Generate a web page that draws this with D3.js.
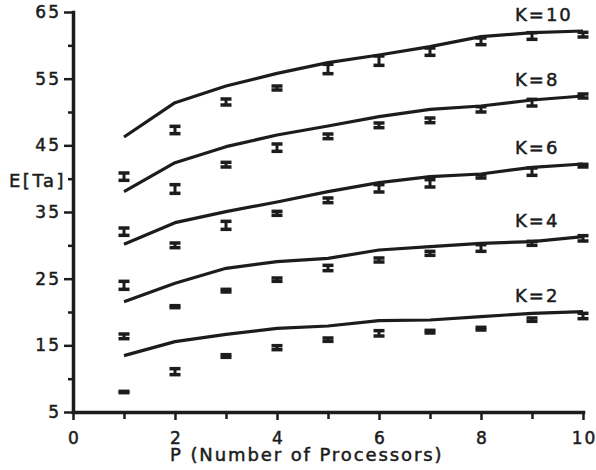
<!DOCTYPE html>
<html>
<head>
<meta charset="utf-8">
<script src="https://cdn.jsdelivr.net/npm/d3@7"></script>
<style>
  body { margin: 0; background: #fff; }
  svg text { font-family: "DejaVu Sans", sans-serif; fill: #1c1c1c; stroke: #1c1c1c; stroke-width: 0.5px; }
</style>
</head>
<body>
<div id="chart"></div>
<script>
// Number of processors
var procs = [1, 2, 3, 4, 5, 6, 7, 8, 9, 10];

// Model curves, one per K
var modelK2  = [13.45, 15.55, 16.65, 17.55, 17.9, 18.7, 18.8, 19.3, 19.8, 20.05];
var modelK4  = [21.55, 24.3, 26.55, 27.55, 28.05, 29.3, 29.8, 30.3, 30.55, 31.3];
var modelK6  = [30.15, 33.4, 35.05, 36.5, 38.05, 39.4, 40.3, 40.7, 41.7, 42.2];
var modelK8  = [38.05, 42.4, 44.8, 46.55, 47.9, 49.3, 50.4, 50.9, 51.8, 52.4];
var modelK10 = [46.25, 51.4, 53.9, 55.8, 57.4, 58.55, 59.8, 61.3, 61.9, 62.15];

// Simulation means and half widths of the error bars
var simK2  = [8.0, 11.05, 13.4, 14.65, 15.85, 16.8, 17.05, 17.5, 18.85, 19.4];
var errK2  = [0.1, 0.45, 0.2, 0.3, 0.25, 0.4, 0.2, 0.2, 0.25, 0.4];
var simK4  = [16.35, 20.8, 23.2, 24.85, 26.6, 27.8, 28.8, 29.6, 30.3, 31.05];
var errK4  = [0.35, 0.15, 0.2, 0.25, 0.4, 0.3, 0.3, 0.5, 0.3, 0.4];
var simK6  = [24.0, 30.0, 33.0, 34.8, 36.75, 38.55, 39.3, 40.35, 41.05, 41.95];
var errK6  = [0.6, 0.35, 0.6, 0.3, 0.35, 0.55, 0.55, 0.25, 0.55, 0.2];
var simK8  = [32.05, 38.45, 42.1, 44.65, 46.35, 48.0, 48.75, 50.4, 51.4, 52.4];
var errK8  = [0.55, 0.65, 0.35, 0.55, 0.35, 0.35, 0.35, 0.4, 0.5, 0.3];
var simK10 = [40.3, 47.3, 51.5, 53.6, 56.45, 57.7, 59.05, 60.6, 61.4, 61.6];
var errK10 = [0.55, 0.55, 0.45, 0.3, 0.7, 0.7, 0.55, 0.5, 0.5, 0.35];

var curveLabels = ["K=2", "K=4", "K=6", "K=8", "K=10"];

// Axis ticks
var xMajor = [0, 2, 4, 6, 8, 10];
var xMinor = [1, 3, 5, 7, 9];
var yMajor = [5, 15, 25, 35, 45, 55, 65];
var yMinor = [10, 20, 30, 40, 50, 60];

var series = [
    {label: curveLabels[0], model: modelK2,  sim: simK2,  err: errK2},
    {label: curveLabels[1], model: modelK4,  sim: simK4,  err: errK4},
    {label: curveLabels[2], model: modelK6,  sim: simK6,  err: errK6},
    {label: curveLabels[3], model: modelK8,  sim: simK8,  err: errK8},
    {label: curveLabels[4], model: modelK10, sim: simK10, err: errK10}
];

var width = 596, height = 470;
var ink = "#1c1c1c";

var svg = d3.select("#chart").append("svg")
    .attr("width", width)
    .attr("height", height);

// Scales
var x = d3.scaleLinear().domain([0, 10]).range([73, 583]);
var y = d3.scaleLinear().domain([5, 65]).range([412, 12]);

// Minor ticks first so the major axis draws over them
svg.append("g")
    .attr("class", "x_minor")
    .attr("transform", "translate(0," + y(5) + ")")
    .call(d3.axisBottom(x).tickValues(xMinor).tickSize(7).tickSizeOuter(0).tickFormat(""));

svg.append("g")
    .attr("class", "y_minor")
    .attr("transform", "translate(" + x(0) + ",0)")
    .call(d3.axisLeft(y).tickValues(yMinor).tickSize(5).tickSizeOuter(0).tickFormat(""));

svg.append("g")
    .attr("class", "x_axis")
    .attr("transform", "translate(0," + y(5) + ")")
    .call(d3.axisBottom(x).tickValues(xMajor).tickSize(8).tickSizeOuter(0).tickPadding(12));

svg.append("g")
    .attr("class", "y_axis")
    .attr("transform", "translate(" + x(0) + ",0)")
    .call(d3.axisLeft(y).tickValues(yMajor).tickSize(9).tickSizeOuter(0).tickPadding(3));

svg.selectAll(".x_axis, .y_axis, .x_minor, .y_minor")
    .selectAll("path, line")
    .attr("stroke", ink)
    .attr("stroke-width", 2.5);
svg.selectAll(".x_axis path, .y_axis path")
    .attr("stroke-width", 3.5)
    .attr("stroke-linecap", "square");

svg.selectAll(".x_axis text, .y_axis text")
    .attr("font-size", 17)
    .attr("fill", ink)
    .style("letter-spacing", "2px");

// Letter spacing adds space after the last glyph, so pull the x labels back
svg.selectAll(".x_axis text").attr("dx", 1);

// Axis labels
svg.append("text")
    .attr("x", 9)
    .attr("y", 187)
    .attr("font-size", 18)
    .style("letter-spacing", "2.5px")
    .text("E[Ta]");

svg.append("text")
    .attr("x", 170)
    .attr("y", 461)
    .attr("font-size", 18)
    .style("letter-spacing", "1.9px")
    .text("P (Number of Processors)");

// Model lines
var line = d3.line()
    .x(function (d, i) { return x(procs[i]); })
    .y(function (d) { return y(d); });

svg.selectAll(".model_line")
    .data(series)
    .enter().append("path")
    .attr("class", "model_line")
    .attr("d", function (d) { return line(d.model); })
    .attr("fill", "none")
    .attr("stroke", ink)
    .attr("stroke-width", 3.2)
    .attr("stroke-linejoin", "round");

// Error bars for the simulation results
var capHalf = 5.5;
series.forEach(function (s) {
    var bars = svg.append("g").selectAll("g")
        .data(procs)
        .enter().append("g");

    bars.append("line")
        .attr("x1", function (p) { return x(p); })
        .attr("x2", function (p) { return x(p); })
        .attr("y1", function (p, i) { return y(s.sim[i] - s.err[i]); })
        .attr("y2", function (p, i) { return y(s.sim[i] + s.err[i]); })
        .attr("stroke", ink)
        .attr("stroke-width", 3);

    [-1, 1].forEach(function (sign) {
        bars.append("line")
            .attr("x1", function (p) { return x(p) - capHalf; })
            .attr("x2", function (p) { return x(p) + capHalf; })
            .attr("y1", function (p, i) { return y(s.sim[i] + sign * s.err[i]); })
            .attr("y2", function (p, i) { return y(s.sim[i] + sign * s.err[i]); })
            .attr("stroke", ink)
            .attr("stroke-width", 3.5);
    });
});

// Curve labels above the right end of each line
svg.selectAll(".k_label")
    .data(series)
    .enter().append("text")
    .attr("class", "k_label")
    .attr("x", 515)
    .attr("y", function (d) { return y(d.model[9]) - 10; })
    .attr("font-size", 18)
    .style("letter-spacing", "2px")
    .text(function (d) { return d.label; });
</script>
</body>
</html>
